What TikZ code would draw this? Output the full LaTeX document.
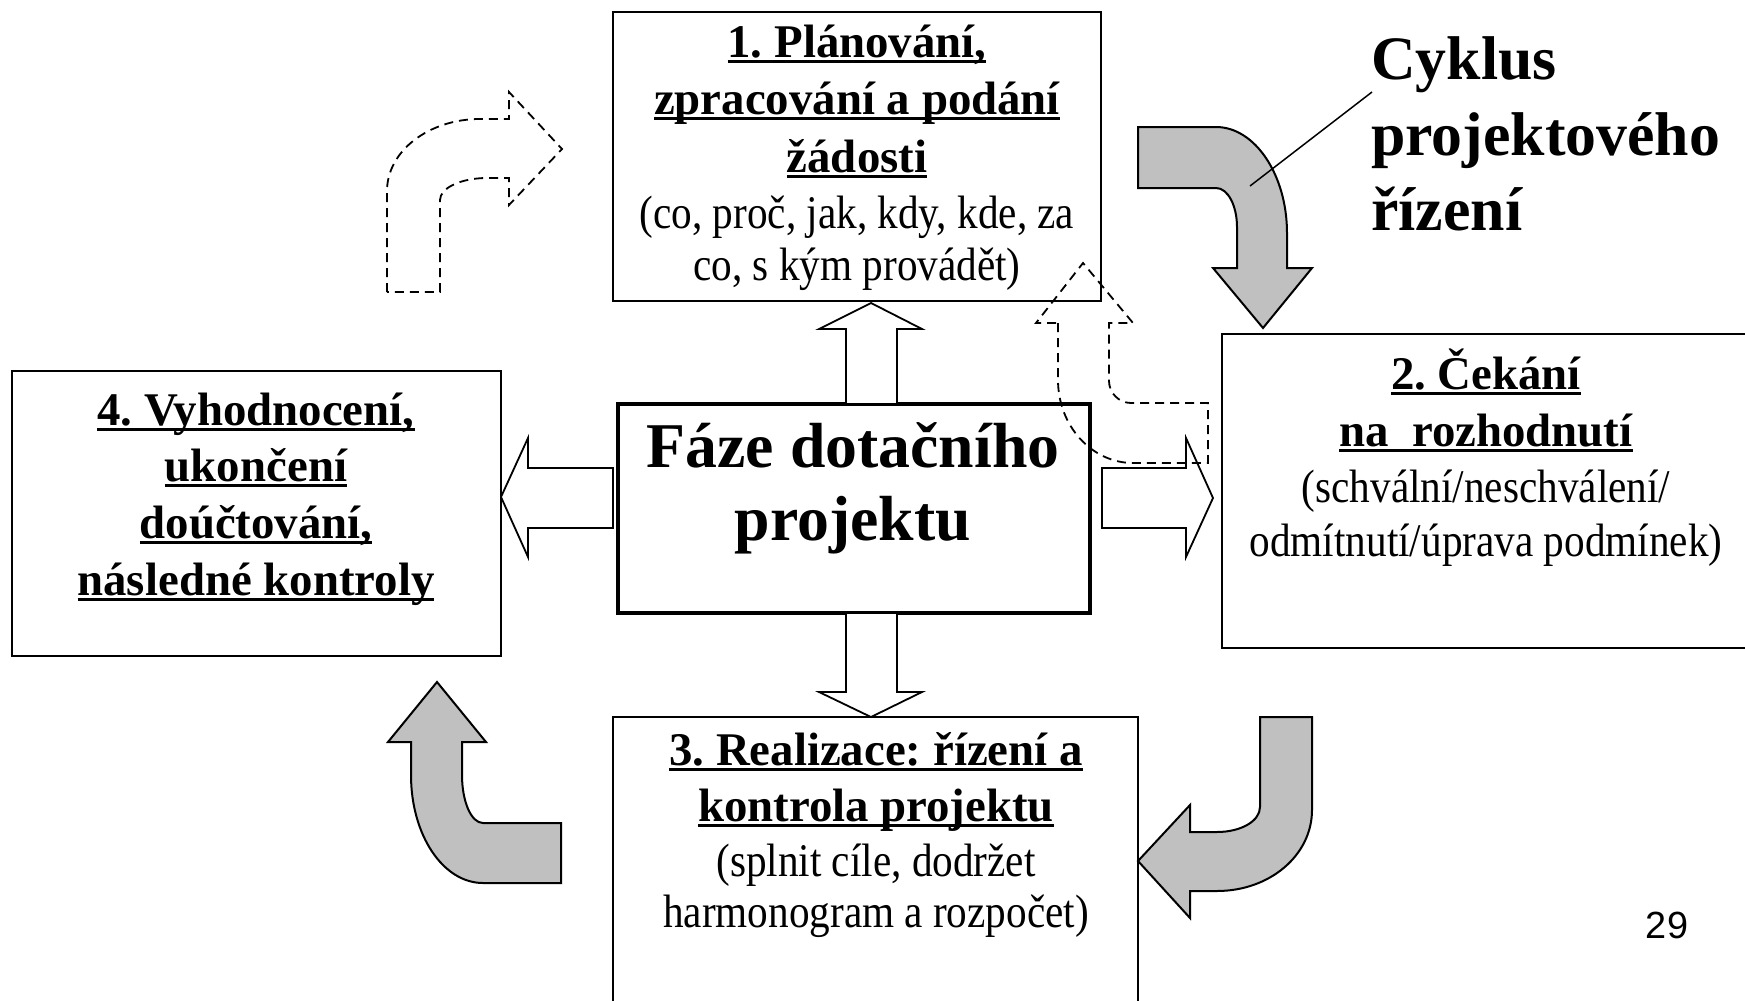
\documentclass[tikz,border=0pt]{standalone}
\usepackage{fontspec}
\setmainfont{Liberation Serif}
\newfontfamily\regfont[FakeStretch=0.88]{Liberation Serif}
\newfontfamily\numfont{Liberation Sans}
\definecolor{arrowgray}{RGB}{192,192,192}
\newsavebox\myulbox
\newcommand\myul[1]{\sbox\myulbox{#1}\rlap{\rule[-6bp]{\wd\myulbox}{2.6bp}}\usebox\myulbox}
\frenchspacing
\begin{document}
\begin{tikzpicture}[x=1bp,y=-1bp,
  box/.style={draw=black, line width=2bp, inner sep=0pt, outer sep=0pt, anchor=north west},
  bline/.style={inner sep=0pt, anchor=base, font=\fontsize{47}{56}\selectfont\bfseries},
  rline/.style={inner sep=0pt, anchor=base, font=\regfont\fontsize{47}{56}\selectfont},
  cline/.style={inner sep=0pt, anchor=base, font=\fontsize{64}{76}\selectfont\bfseries},
  kline/.style={inner sep=0pt, anchor=base west, font=\fontsize{62}{74}\selectfont\bfseries},
  blockarrow/.style={draw=black, fill=white, line width=1.8bp, line join=miter},
  grayarrow/.style={draw=black, fill=arrowgray, line width=2bp, line join=miter},
  dasharrow/.style={draw=black, line width=1.8bp, dash pattern=on 9bp off 6bp},
]
\useasboundingbox (0,0) rectangle (1745,1000);
\clip (0,0) rectangle (1745,1000);

% boxes
\node[box, minimum width=488bp, minimum height=289bp] (b1) at (613,12) {};
\node[box, minimum width=540bp, minimum height=314bp] (b2) at (1222,334) {};
\node[box, minimum width=525bp, minimum height=300bp] (b3) at (613,717) {};
\node[box, minimum width=489bp, minimum height=285bp] (b4) at (12,371) {};
\node[box, line width=3.5bp, minimum width=472bp, minimum height=209bp] (cen) at (618,404) {};

% block arrows from the centre box
\draw[blockarrow] (846,404) -- (846,329) -- (819,329) -- (871,303) -- (922,329) -- (897,329) -- (897,404) -- cycle;
\draw[blockarrow] (846,613) -- (846,692) -- (819,692) -- (871,717) -- (922,692) -- (897,692) -- (897,613) -- cycle;
\draw[blockarrow] (613,468) -- (528,468) -- (528,438) -- (501,497) -- (528,557) -- (528,528) -- (613,528) -- cycle;
\draw[blockarrow] (1102,468) -- (1186,468) -- (1186,438) -- (1213,498) -- (1186,557) -- (1186,528) -- (1102,528) -- cycle;

% grey cycle arrows
\draw[grayarrow] (1138,127) -- (1216,127) .. controls (1255,127) and (1287,175) .. (1287,233) -- (1287,268) -- (1312,268) -- (1263,328) -- (1213,268) -- (1237,268) -- (1237,227) .. controls (1237,206) and (1228,188) .. (1216,188) -- (1138,188) -- cycle;
\draw[grayarrow] (1260,717) -- (1260,807) .. controls (1260,821) and (1241,832) .. (1217,832) -- (1190,832) -- (1190,805) -- (1138,861) -- (1190,918) -- (1190,891) -- (1217,891) .. controls (1270,891) and (1312,855) .. (1312,810) -- (1312,717) -- cycle;
\draw[grayarrow] (561,823) -- (483,823) .. controls (471,823) and (462,801) .. (462,775) -- (462,742) -- (486,742) -- (437,682) -- (388,742) -- (411,742) -- (411,775) .. controls (411,835) and (443,883) .. (483,883) -- (561,883) -- cycle;

% dashed arrows
\draw[dasharrow] (387,292) -- (387,191) .. controls (387,151) and (429,119) .. (480,119) -- (509,119) -- (509,92) -- (562,149) -- (509,205) -- (509,178) -- (487,178) .. controls (461,178) and (440,188) .. (440,200) -- (440,292) -- cycle;
\draw[dasharrow] (1058,323) -- (1058,380) .. controls (1058,426) and (1092,463) .. (1133,463) -- (1208,463) -- (1208,403) -- (1131,403) .. controls (1119,403) and (1109,393) .. (1109,381) -- (1109,323) -- (1133,323) -- (1083,263) -- (1036,323) -- cycle;

% box 1 text
\node[bline] (t1a) at (857,57) {\myul{1. Plánování,}};
\node[bline] (t1b) at (857,114) {\myul{zpracování a podání}};
\node[bline] (t1c) at (857,172) {\myul{žádosti}};
\node[rline] (t1d) at (857,228) {(co, proč, jak, kdy, kde, za};
\node[rline] (t1e) at (857,280) {co, s kým provádět)};

% box 2 text
\node[bline] (t2a) at (1486,389) {\myul{2. Čekání}};
\node[bline] (t2b) at (1486,446) {\myul{na\ \ rozhodnutí}};
\node[rline] (t2c) at (1486,502) {(schvální/neschválení/};
\node[rline] (t2d) at (1486,556) {odmítnutí/úprava podmínek)};

% box 3 text
\node[bline] (t3a) at (876,765) {\myul{3. Realizace: řízení a}};
\node[bline] (t3b) at (876,821) {\myul{kontrola projektu}};
\node[rline] (t3c) at (876,876) {(splnit cíle, dodržet};
\node[rline] (t3d) at (876,927) {harmonogram a rozpočet)};

% box 4 text
\node[bline] (t4a) at (256,425) {\myul{4. Vyhodnocení,}};
\node[bline] (t4b) at (256,481) {\myul{ukončení}};
\node[bline] (t4c) at (256,538) {\myul{doúčtování,}};
\node[bline] (t4d) at (256,595) {\myul{následné kontroly}};

% centre text
\node[cline] (tca) at (853,467) {Fáze dotačního};
\node[cline] (tcb) at (853,540) {projektu};

% title with callout
\node[kline] (k1) at (1371,79) {Cyklus};
\node[kline] (k2) at (1371,155) {projektového};
\node[kline] (k3) at (1371,230) {řízení};
\coordinate (calloutA) at (1250,186);
\coordinate (calloutB) at (1372,92);
\draw[line width=1.5bp] (calloutA) -- (calloutB);

% page number
\node[inner sep=0pt, anchor=base, font=\numfont\fontsize{38}{44}\selectfont] (pg) at (1667,938) {29};
\end{tikzpicture}
\end{document}
